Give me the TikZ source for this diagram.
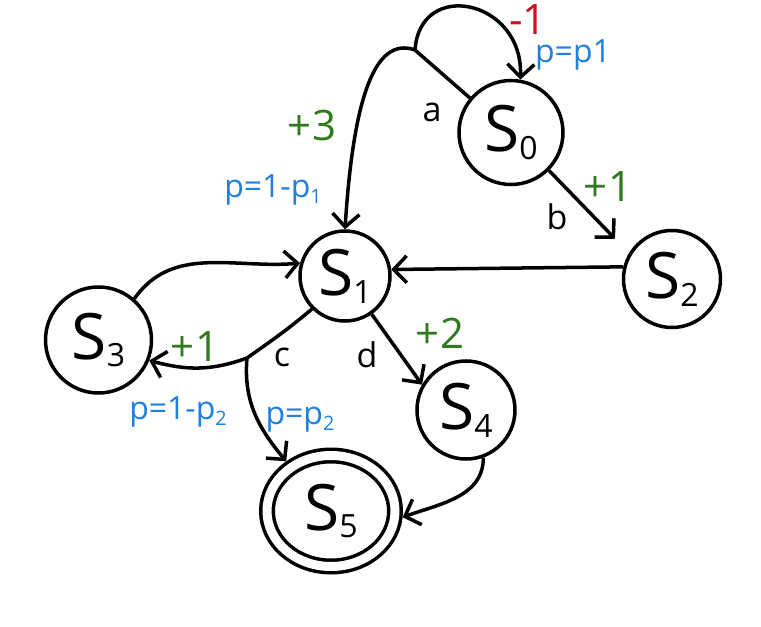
\documentclass[tikz,border=0pt]{standalone}
\usepackage{fontspec}
\setmainfont{Open Sans}
\usepackage{xcolor}
\usepackage{graphicx}
\usepackage{tikz}
\usetikzlibrary{arrows.meta,positioning,shapes.geometric}
\definecolor{mdpred}{HTML}{C8161B}
\definecolor{mdpgreen}{HTML}{2F7A1C}
\definecolor{mdpblue}{HTML}{1F80E0}
\newcommand{\stsub}[1]{\raisebox{-0.12em}{\scalebox{0.5}{#1}}}
\newcommand{\prsub}[1]{\raisebox{-0.18em}{\scalebox{0.62}{#1}}}
\tikzset{
  trans/.style={-{Straight Barb[length=13pt,width=27pt]}, line width=3.5pt, draw=black},
  armline/.style={line width=3.5pt, draw=black},
  stnode/.style={circle, draw=black, line width=3.5pt, inner sep=0pt,
    font=\fontsize{64}{64}\selectfont},
  endnode/.style={ellipse, draw=black, line width=3.5pt, double, double distance=9pt,
    inner sep=0pt, outer sep=8pt, minimum width=128pt, minimum height=111pt,
    font=\fontsize{64}{64}\selectfont},
  reward/.style={font=\fontsize{42}{42}\selectfont, inner sep=0pt},
  prob/.style={font=\fontsize{32}{32}\selectfont, text=mdpblue, inner sep=0pt},
  act/.style={font=\fontsize{34}{34}\selectfont, inner sep=0pt}
}

\begin{document}
\begin{tikzpicture}[on grid]
        \useasboundingbox (-345pt,-351pt) rectangle (416pt,276pt);
        \node[stnode, minimum size=90pt] (s1) {S\stsub{1}};
        \node[stnode, minimum size=104pt, above right=143.5pt and 166pt of s1] (s0) {S\stsub{0}};
        \node[stnode, minimum size=97pt, below right=3pt and 327pt of s1] (s2) {S\stsub{2}};
        \node[stnode, minimum size=106pt, below left=64pt and 246.5pt of s1] (s3) {S\stsub{3}};
        \node[stnode, minimum size=98pt, below right=134pt and 121pt of s1] (s4) {S\stsub{4}};
        \node[endnode, below left=235pt and 14pt of s1] (s5) {S\stsub{5}};
        \coordinate[above right=226pt and 70pt of s1] (abr);
        \coordinate[below left=82pt and 98pt of s1] (cbr);

        \node[reward, text=mdpred, above right=112.5pt and 17pt of s0] (rs0) {-1};
        \node[prob, above right=77.5pt and 62pt of s0] (ps0) {p=p1};
        \node[act, above left=20.5pt and 79pt of s0] (aa) {a};
        \node[reward, text=mdpgreen, above left=151pt and 33pt of s1] (rs1) {+3};
        \node[prob, above left=86pt and 72pt of s1] (ps1) {p=1-p\prsub{1}};
        \node[act, below right=84.5pt and 46pt of s0] (ab) {b};
        \node[reward, text=mdpgreen, below right=54.5pt and 97pt of s0] (rs2) {+1};
        \node[reward, text=mdpgreen, below right=7pt and 96.5pt of s3] (rs3) {+1};
        \node[prob, below right=72pt and 79.5pt of s3] (ps3) {p=1-p\prsub{2}};
        \node[act, below left=81pt and 63pt of s1] (ac) {c};
        \node[act, below right=79pt and 22pt of s1] (ad) {d};
        \node[reward, text=mdpgreen, above left=77pt and 26pt of s4] (rs4) {+2};
        \node[prob, above left=91pt and 31pt of s5] (ps5) {p=p\prsub{2}};

        \draw[armline] (s0.140) -- (abr);
        \draw[trans] (abr) .. controls +(5pt,72pt) and +(3pt,80pt) .. (s0.80);
        \draw[trans] (abr) .. controls +(-42pt,15pt) and +(8pt,125pt) .. (s1.north);
        \draw[trans, shorten >=20pt] (s0.-45) -- (s2.149);
        \draw[trans] (s2.166) -- (s1.8);
        \draw[trans] (s3.49) to[out=55, in=185] (s1.164);
        \draw[armline] (s1.225) to[out=220, in=35] (cbr);
        \draw[trans] (cbr) to[out=200, in=-15] (s3.-22);
        \draw[trans] (cbr) to[out=-95, in=130] (s5.132);
        \draw[trans] (s1.-55) -- (s4.150);
        \draw[trans] (s4.-70) to[out=-90, in=20] (s5.-5);
    \end{tikzpicture}
\end{document}
